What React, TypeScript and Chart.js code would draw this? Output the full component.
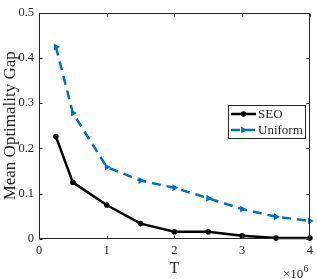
import React, { useEffect, useRef } from "react";
import { Chart, registerables } from "chart.js";

Chart.register(...registerables);

const T = [250000, 500000, 1000000, 1500000, 2000000, 2500000, 3000000, 3500000, 4000000];
const seo = [0.226, 0.125, 0.075, 0.034, 0.016, 0.016, 0.007, 0.002, 0.002];
const uniform = [0.424, 0.278, 0.159, 0.129, 0.113, 0.09, 0.066, 0.049, 0.04];
const seriesNames = ["SEO", "Uniform"];
const xTicks = [0, 1000000, 2000000, 3000000, 4000000];
const yTicks = [0, 0.1, 0.2, 0.3, 0.4, 0.5];

const AX = "#262626";
const FONT = "Liberation Serif";
const BLUE = "#0072BD";

const framePlugin = {
  id: "frame",
  afterDraw(chart: any) {
    const { ctx, chartArea: a, scales } = chart;
    const x = scales.x;
    const y = scales.y;
    ctx.save();
    ctx.strokeStyle = AX;
    ctx.lineWidth = 1;
    const L = Math.round(a.left) + 0.5;
    const R = Math.round(a.right) - 0.5;
    const Tp = Math.round(a.top) + 0.5;
    const B = Math.round(a.bottom) - 0.5;
    ctx.beginPath();
    ctx.rect(L, Tp, R - L, B - Tp);
    const tl = 3;
    xTicks.forEach((v) => {
      const p = Math.round(x.getPixelForValue(v)) + 0.5;
      ctx.moveTo(p, B);
      ctx.lineTo(p, B - tl);
      ctx.moveTo(p, Tp);
      ctx.lineTo(p, Tp + tl);
    });
    yTicks.forEach((v) => {
      const p = Math.round(y.getPixelForValue(v)) + 0.5;
      ctx.moveTo(L, p);
      ctx.lineTo(L + tl, p);
      ctx.moveTo(R, p);
      ctx.lineTo(R - tl, p);
    });
    ctx.stroke();

    // exponent label
    ctx.fillStyle = AX;
    ctx.textBaseline = "alphabetic";
    ctx.textAlign = "left";
    ctx.font = `13px ${FONT}`;
    ctx.fillText("\u00d710", 283, 278);
    ctx.font = `10px ${FONT}`;
    ctx.fillText("6", 303.5, 272);

    // legend
    const lx = 228, ly = 105, lw = 78, lh = 34;
    ctx.fillStyle = "#ffffff";
    ctx.fillRect(lx, ly, lw, lh);
    ctx.strokeStyle = AX;
    ctx.lineWidth = 1;
    ctx.strokeRect(lx + 0.5, ly + 0.5, lw - 1, lh - 1);
    const rows = [ly + 9, ly + 25];
    chart.data.datasets.forEach((ds: any, i: number) => {
      const ry = rows[i];
      ctx.save();
      ctx.strokeStyle = ds.borderColor;
      ctx.lineWidth = ds.borderWidth;
      ctx.setLineDash(ds.borderDash || []);
      ctx.beginPath();
      ctx.moveTo(lx + 3, ry);
      ctx.lineTo(lx + 28, ry);
      ctx.stroke();
      ctx.restore();
      ctx.save();
      ctx.fillStyle = ds.pointBackgroundColor;
      ctx.beginPath();
      const cx = lx + 15.5;
      if (ds.pointStyle === "triangle") {
        const r = 4;
        ctx.moveTo(cx + r, ry);
        ctx.lineTo(cx - r * 0.6, ry - r * 0.85);
        ctx.lineTo(cx - r * 0.6, ry + r * 0.85);
        ctx.closePath();
      } else {
        ctx.arc(cx, ry, 2.8, 0, Math.PI * 2);
      }
      ctx.fill();
      ctx.restore();
      ctx.fillStyle = AX;
      ctx.font = `13px ${FONT}`;
      ctx.textAlign = "left";
      ctx.textBaseline = "middle";
      ctx.fillText(ds.label, lx + 30, ry + 0.5);
    });
    ctx.restore();
  },
};

export default function App() {
  const ref = useRef<HTMLCanvasElement | null>(null);
  useEffect(() => {
    if (!ref.current) return;
    const chart = new Chart(ref.current, {
      type: "line",
      data: {
        datasets: [
          {
            label: seriesNames[0],
            data: T.map((t, i) => ({ x: t, y: seo[i] })),
            borderColor: "#000000",
            backgroundColor: "#000000",
            pointBackgroundColor: "#000000",
            pointBorderColor: "#000000",
            borderWidth: 2.5,
            pointRadius: 2.8,
            pointBorderWidth: 0,
            pointStyle: "circle",
            clip: false as any,
          },
          {
            label: seriesNames[1],
            data: T.map((t, i) => ({ x: t, y: uniform[i] })),
            borderColor: BLUE,
            backgroundColor: BLUE,
            pointBackgroundColor: BLUE,
            pointBorderColor: BLUE,
            borderWidth: 2.5,
            borderDash: [9, 6],
            pointRadius: 4,
            pointBorderWidth: 0,
            pointStyle: "triangle",
            pointRotation: 90,
            clip: false as any,
          },
        ],
      },
      options: {
        animation: false,
        responsive: false,
        maintainAspectRatio: false,
        layout: { padding: { left: 0, right: 3, top: 5, bottom: 0 } },
        plugins: { legend: { display: false }, tooltip: { enabled: false } },
        scales: {
          x: {
            type: "linear",
            min: 0,
            max: 4000000,
            afterFit: (s: any) => {
              s.height = 40;
            },
            afterBuildTicks: (s: any) => {
              s.ticks = xTicks.map((v) => ({ value: v }));
            },
            ticks: {
              callback: (v: any) => String(Number(v) / 1000000),
              font: { family: FONT, size: 12.5 },
              color: AX,
              padding: 4,
              maxRotation: 0,
            },
            grid: { display: false, drawTicks: false },
            border: { display: false },
            title: {
              display: true,
              text: "T",
              font: { family: FONT, size: 16 },
              color: AX,
              padding: { top: 0, bottom: 1 },
            },
          },
          y: {
            type: "linear",
            min: 0,
            max: 0.5,
            afterFit: (s: any) => {
              s.width = 39;
            },
            afterBuildTicks: (s: any) => {
              s.ticks = yTicks.map((v) => ({ value: v }));
            },
            ticks: {
              callback: (v: any) => (Number(v) === 0 ? "0" : Number(v).toFixed(1)),
              font: { family: FONT, size: 12.5 },
              color: AX,
              padding: 5,
            },
            grid: { display: false, drawTicks: false },
            border: { display: false },
            title: {
              display: true,
              text: "Mean Optimality Gap",
              font: { family: FONT, size: 17 },
              color: AX,
              padding: { top: 0, bottom: 0 },
            },
          },
        },
      },
      plugins: [framePlugin],
    });
    return () => chart.destroy();
  }, []);
  return (
    <div style={{ position: "fixed", left: 0, top: 0, width: 317, height: 279, background: "#fff" }}>
      <canvas ref={ref} width={317} height={279} style={{ display: "block", width: 317, height: 279 }} />
    </div>
  );
}
